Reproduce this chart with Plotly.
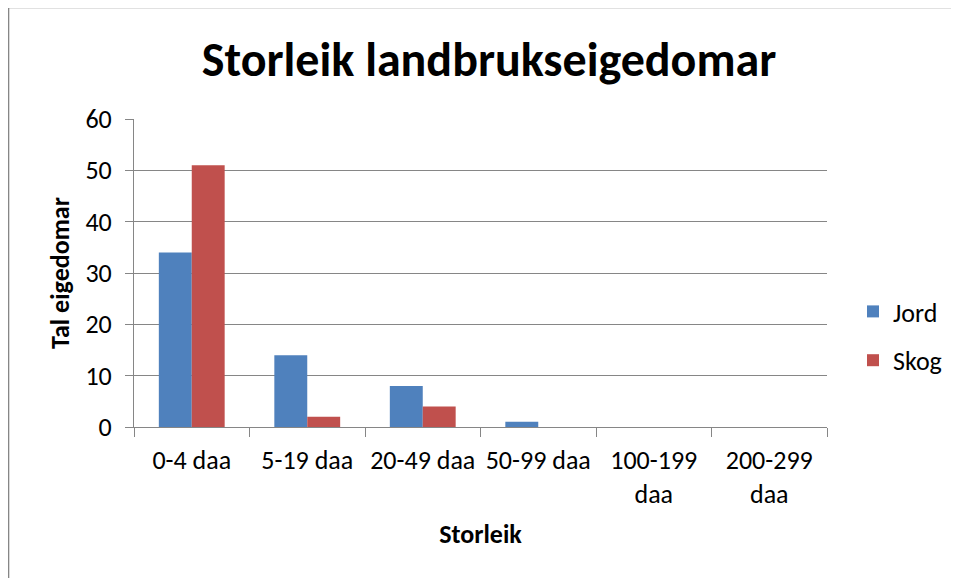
import plotly.graph_objects as go

categories = ["0-4 daa", "5-19 daa", "20-49 daa", "50-99 daa", "100-199 daa", "200-299 daa"]
tick_labels = ["0-4 daa", "5-19 daa", "20-49 daa", "50-99 daa", "100-199<br>daa", "200-299<br>daa"]
jord = [34, 14, 8, 1, 0, 0]
skog = [51, 2, 4, 0, 0, 0]

FONT = "Calibri, Carlito, Lato, sans-serif"
OFF = 8  # browser body margin
W, H = 959 - OFF, 578 - OFF
L, R, T, B = 134 - OFF, 827 - OFF, 119 - OFF, 427 - OFF

fig = go.Figure()
fig.add_trace(go.Bar(name="Jord", x=categories, y=jord, legendgroup="jord",
                     marker=dict(color="#4F81BD", line=dict(width=0))))
fig.add_trace(go.Bar(name="Skog", x=categories, y=skog, legendgroup="skog",
                     marker=dict(color="#C0504D", line=dict(width=0))))

fig.update_layout(
    width=W, height=H,
    margin=dict(l=L, r=W - R, t=T, b=H - B, pad=0, autoexpand=False),
    paper_bgcolor="white", plot_bgcolor="white",
    font=dict(family=FONT, color="black", size=26),
    barmode="group", bargap=0.43, bargroupgap=0,
    title=dict(text="<b>Storleik landbrukseigedomar</b>", font=dict(size=48, family=FONT),
               x=(489 - OFF - L) / (R - L), xref="paper", xanchor="center",
               y=1 - (59 - OFF) / H, yref="container", yanchor="middle"),
    legend=dict(x=(853 - OFF - L) / (R - L), xanchor="left",
                y=(427 - 336) / (427 - 119), yanchor="middle",
                font=dict(size=26, family=FONT), itemwidth=30, tracegroupgap=12,
                bgcolor="rgba(0,0,0,0)"),
    showlegend=True,
)

fig.update_xaxes(
    type="category", tickmode="array", tickvals=categories, ticktext=tick_labels,
    tickson="boundaries", ticks="outside", ticklen=9, tickcolor="#868686", tickwidth=1,
    showline=True, linecolor="#868686", linewidth=1, showgrid=False,
    tickfont=dict(size=26, family=FONT), tickangle=0, automargin=False, ticklabelstandoff=10,
    title=dict(text="<b>Storleik</b>", font=dict(size=26, family=FONT), standoff=15),
)
fig.update_yaxes(
    range=[0, 60], dtick=10, ticks="outside", ticklen=8, tickcolor="#868686",
    showline=True, linecolor="#868686", linewidth=1,
    showgrid=True, gridcolor="#868686", gridwidth=1, zeroline=False,
    tickfont=dict(size=26, family=FONT), ticklabelstandoff=8, automargin=False,
    title=dict(text="<b>Tal eigedomar</b>", font=dict(size=26, family=FONT), standoff=8),
)

# chart border (Excel chart area frame)
fig.add_shape(type="rect", xref="paper", yref="paper",
              x0=(8 - OFF - L) / (R - L) + 0.0008, x1=(1000 - L) / (R - L),
              y0=(B - 700) / (B - T), y1=(B - (7 - OFF) - 0.5) / (B - T),
              line=dict(color="#868686", width=1.5), fillcolor="rgba(0,0,0,0)", layer="below")

fig.write_html("out.html")
